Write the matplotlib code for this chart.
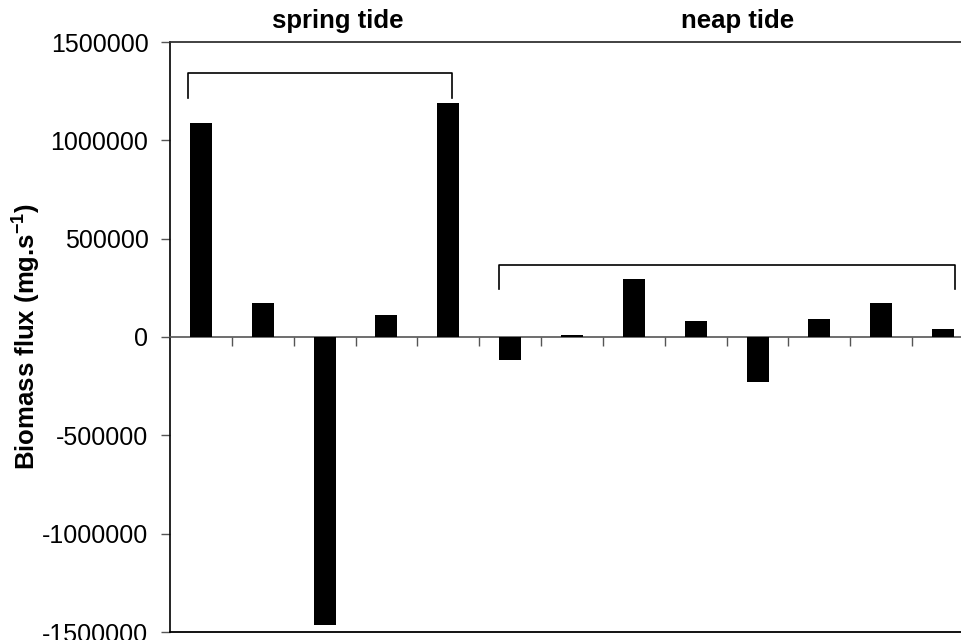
import matplotlib
matplotlib.use("Agg")
import matplotlib.pyplot as plt
import matplotlib.transforms as mtransforms

plt.rcParams['font.family'] = ['Liberation Sans', 'DejaVu Sans']
plt.rcParams['mathtext.fontset'] = 'custom'
plt.rcParams['mathtext.rm'] = 'Liberation Sans'
plt.rcParams['mathtext.bf'] = 'Liberation Sans:bold'

# data
flux = [1090000, 174000, -1465000, 112000, 1192000,
        -118000, 10000, 293000, 81000, -229000, 92000, 174000, 41000]
groups = ["spring tide", "neap tide"]
group_title_x = [2.21, 8.67]
bracket_x = [(-0.21, 4.06), (4.82, 12.20)]
bracket_y = [1341000, 368000]
bracket_drop = [127000, 124000]
y_ticks = [-1500000, -1000000, -500000, 0, 500000, 1000000, 1500000]

fig = plt.figure(figsize=(9.62, 6.4), dpi=100)
ax = fig.add_axes([170/962, 8/640, 804/962, 590/640])

x = list(range(len(flux)))
ax.bar(x, flux, width=0.356, color='black', zorder=3)

ax.set_xlim(-0.5, len(flux) - 0.5)
ax.set_ylim(y_ticks[0], y_ticks[-1])
ax.set_yticks(y_ticks)
ax.set_yticklabels([str(v) for v in y_ticks])

ax.spines['right'].set_visible(False)
ax.spines['bottom'].set_position(('data', 0))
ax.spines['bottom'].set_color('#555555')
ax.spines['bottom'].set_linewidth(1.2)
ax.spines['left'].set_linewidth(1.2)
ax.spines['top'].set_linewidth(1.3)
ax.spines['top'].set_color('#333333')
ax.axhline(y_ticks[0], color='black', linewidth=1.3, clip_on=False)

ax.set_xticks([i + 0.5 for i in range(len(flux))])
ax.set_xticklabels([])
ax.tick_params(axis='x', direction='out', length=6.5, width=1, color='#555555')
ax.tick_params(axis='y', direction='out', length=6.5, width=1, color='#555555',
               labelsize=18, pad=9)

ax.set_ylabel(r'Biomass flux (mg.s$^{\mathbf{-1}}$)', fontsize=18.5,
              fontweight='bold', labelpad=0.5)

trans = mtransforms.blended_transform_factory(ax.transData, ax.transAxes)
for (bl, br), by, bd, name, tx in zip(bracket_x, bracket_y, bracket_drop,
                                       groups, group_title_x):
    ax.plot([bl, bl, br, br], [by - bd, by, by, by - bd],
            color='black', linewidth=1.2, zorder=4)
    ax.text(tx, 1.0237, name, transform=trans, ha='center', va='baseline',
            fontsize=18.5, fontweight='bold')

fig.savefig('out.png', dpi=100)
